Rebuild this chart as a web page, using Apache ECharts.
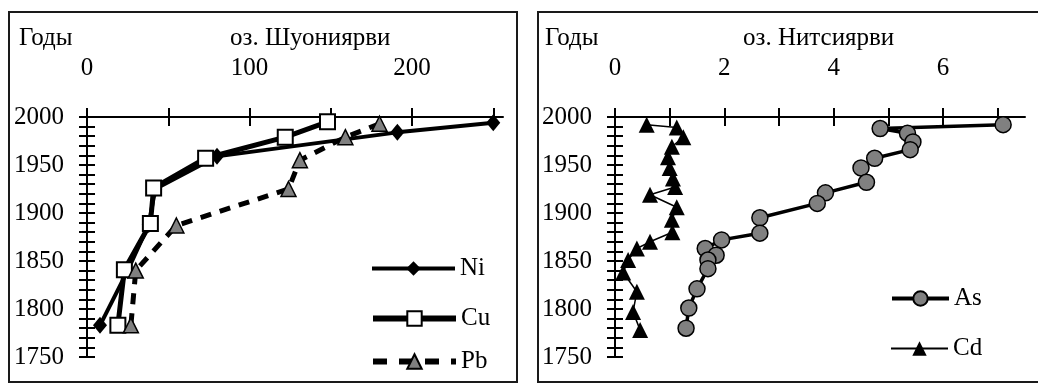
<!DOCTYPE html>
<html>
<head>
<meta charset="utf-8">
<script src="https://cdn.jsdelivr.net/npm/echarts@6/dist/echarts.min.js"></script>
<style>
  html, body { margin: 0; padding: 0; background: #fff; }
  #chart { width: 1038px; height: 384px; }
</style>
</head>
<body>
<div id="chart"></div>
<script>
// Lake Shuoniyarvi core: Ni, Cu, Pb against year
const niYears = [1994, 1984, 1959, 1925, 1888, 1840, 1783];
const niValues = [250, 191, 80, 42, 38, 25, 8];
const cuYears = [1995, 1979, 1957, 1926, 1889, 1841, 1783];
const cuValues = [148, 122, 73, 41, 39, 23, 19];
const pbYears = [1993, 1979, 1955, 1925, 1887, 1840, 1783];
const pbValues = [180, 159, 131, 124, 55, 30, 27];

// Lake Nitsiyarvi core: As, Cd against year
const asYears = [1992, 1988, 1983, 1974, 1966, 1957, 1947, 1932, 1921, 1910,
                 1895, 1879, 1872, 1863, 1856, 1851, 1842, 1821, 1801, 1780];
const asValues = [7.1, 4.85, 5.35, 5.45, 5.4, 4.75, 4.5, 4.6, 3.85, 3.7,
                  2.65, 2.65, 1.95, 1.65, 1.85, 1.7, 1.7, 1.5, 1.35, 1.3];
const cdYears = [1992, 1989, 1979, 1969, 1958, 1947, 1936, 1927, 1919, 1906,
                 1893, 1880, 1870, 1863, 1851, 1838, 1818, 1797, 1778];
const cdValues = [0.58, 1.13, 1.25, 1.04, 0.97, 1.0, 1.06, 1.1, 0.64, 1.13,
                  1.04, 1.05, 0.64, 0.4, 0.24, 0.15, 0.4, 0.33, 0.46];

// Axis ticks and labels
const leftXTicks = [0, 50, 100, 150, 200, 250];
const leftXLabels = [0, 100, 200];
const rightXTicks = [0, 1, 2, 3, 4, 5, 6, 7];
const rightXLabels = [0, 2, 4, 6];
const yearLabels = [1750, 1800, 1850, 1900, 1950, 2000];

const FONT = '"Liberation Serif", "Times New Roman", serif';
const INK = '#000';

const pairs = (vals, yrs) => vals.map((v, i) => [v, yrs[i]]);

// Two overlapping axes per direction so that ticks cross the axis line
function xAxesFor(gridIndex, max, ticks, labels) {
  const base = {
    type: 'value', gridIndex, position: 'top', min: 0, max,
    splitLine: { show: false }
  };
  return [
    Object.assign({}, base, {
      axisLine: { onZero: false, lineStyle: { color: INK, width: 2 } },
      axisTick: { customValues: ticks, length: 9, lineStyle: { color: INK, width: 2 } },
      axisLabel: { customValues: labels, margin: 36, fontFamily: FONT, fontSize: 25, color: INK,
                   formatter: v => String(v) }
    }),
    Object.assign({}, base, {
      axisLine: { show: false },
      axisTick: { customValues: ticks, inside: true, length: 9, lineStyle: { color: INK, width: 2 } },
      axisLabel: { show: false }
    })
  ];
}

// Years run upward: 1750 at the bottom, 2000 along the top axis
function yAxesFor(gridIndex) {
  const base = {
    type: 'value', gridIndex, position: 'left',
    min: 1750, max: 2000, interval: 10,
    splitLine: { show: false }
  };
  return [
    Object.assign({}, base, {
      axisLine: { onZero: false, lineStyle: { color: INK, width: 2 } },
      axisTick: { length: 8, lineStyle: { color: INK, width: 2 } },
      axisLabel: { customValues: yearLabels, margin: 23, fontFamily: FONT, fontSize: 25, color: INK,
                   formatter: v => String(v) }
    }),
    Object.assign({}, base, {
      axisLine: { show: false },
      axisTick: { inside: true, length: 8, lineStyle: { color: INK, width: 2 } },
      axisLabel: { show: false }
    })
  ];
}

const legendText = { fontFamily: FONT, fontSize: 25, color: INK };
function legendFor(name, left, centerY, width, line) {
  return {
    data: [name], left, top: centerY - 9, padding: 0,
    itemWidth: width, itemHeight: 18, itemGap: 0,
    lineStyle: line,
    textStyle: legendText, selectedMode: false
  };
}

const chart = echarts.init(document.getElementById('chart'), null, { renderer: 'canvas' });

chart.setOption({
  animation: false,
  backgroundColor: '#fff',
  grid: [
    { left: 87, top: 117, width: 416, height: 240, containLabel: false },
    { left: 615, top: 117, width: 410, height: 240, containLabel: false }
  ],
  xAxis: [
    ...xAxesFor(0, 256, leftXTicks, leftXLabels),
    ...xAxesFor(1, 7.5, rightXTicks, rightXLabels)
  ],
  yAxis: [
    ...yAxesFor(0),
    ...yAxesFor(1)
  ],
  legend: [
    legendFor('Ni', 370, 265, 83, { color: INK, width: 4 }),
    legendFor('Cu', 370, 315, 83, { color: INK, width: 6 }),
    legendFor('Pb', 370, 358, 83, { color: INK, width: 6, type: [14, 12] }),
    legendFor('As', 890, 295, 57, { color: INK, width: 4 }),
    legendFor('Cd', 890, 345, 57, { color: INK, width: 2 })
  ],
  graphic: [
    { type: 'rect', shape: { x: 9, y: 12, width: 508, height: 370 },
      style: { fill: null, stroke: '#1a1a1a', lineWidth: 2 }, silent: true },
    { type: 'rect', shape: { x: 538, y: 12, width: 530, height: 370 },
      style: { fill: null, stroke: '#1a1a1a', lineWidth: 2 }, silent: true },
    { type: 'text', style: { x: 19, y: 38, text: 'Годы', font: '25px ' + FONT, fill: INK, textVerticalAlign: 'middle' } },
    { type: 'text', style: { x: 230, y: 38, text: 'оз. Шуониярви', font: '25px ' + FONT, fill: INK, textVerticalAlign: 'middle' } },
    { type: 'text', style: { x: 545, y: 38, text: 'Годы', font: '25px ' + FONT, fill: INK, textVerticalAlign: 'middle' } },
    { type: 'text', style: { x: 743, y: 38, text: 'оз. Нитсиярви', font: '25px ' + FONT, fill: INK, textVerticalAlign: 'middle' } }
  ],
  series: [
    {
      name: 'Ni', type: 'line', xAxisIndex: 0, yAxisIndex: 0,
      data: pairs(niValues, niYears),
      symbol: 'diamond', symbolSize: [14, 17],
      itemStyle: { color: INK },
      lineStyle: { color: INK, width: 4 }
    },
    {
      name: 'Cu', type: 'line', xAxisIndex: 0, yAxisIndex: 0,
      data: pairs(cuValues, cuYears),
      symbol: 'rect', symbolSize: 15,
      itemStyle: { color: '#fff', borderColor: INK, borderWidth: 2 },
      lineStyle: { color: INK, width: 5 }
    },
    {
      name: 'Pb', type: 'line', xAxisIndex: 0, yAxisIndex: 0,
      data: pairs(pbValues, pbYears),
      symbol: 'triangle', symbolSize: 15,
      itemStyle: { color: '#808080', borderColor: INK, borderWidth: 1.5 },
      lineStyle: { color: INK, width: 5, type: [11, 9] }
    },
    {
      name: 'As', type: 'line', xAxisIndex: 2, yAxisIndex: 2,
      data: pairs(asValues, asYears),
      symbol: 'circle', symbolSize: 16,
      itemStyle: { color: '#808080', borderColor: INK, borderWidth: 1.5 },
      lineStyle: { color: INK, width: 3.5 }
    },
    {
      name: 'Cd', type: 'line', xAxisIndex: 2, yAxisIndex: 2,
      data: pairs(cdValues, cdYears),
      symbol: 'triangle', symbolSize: 16,
      itemStyle: { color: INK },
      lineStyle: { color: INK, width: 1.5 }
    }
  ]
});
</script>
</body>
</html>
